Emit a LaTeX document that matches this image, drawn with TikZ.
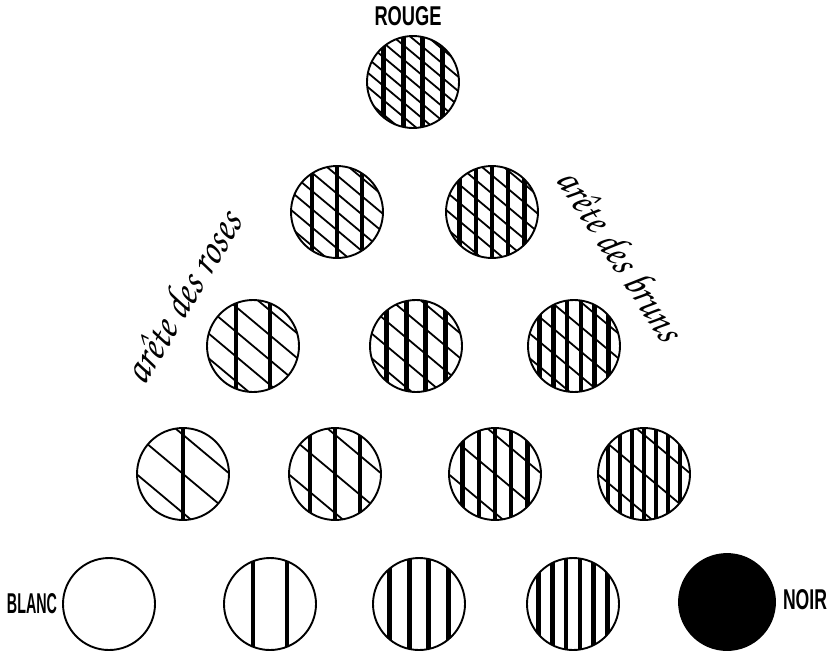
\documentclass[tikz,border=0pt]{standalone}
\usepackage[T1,TU]{fontenc}
\usepackage{fontspec}
\usepackage{graphicx}
\setsansfont{Liberation Sans}
\usetikzlibrary{calc}
\newcommand\chanc{\fontencoding{T1}\fontfamily{pzc}\fontseries{mb}\fontshape{it}\selectfont}
\begin{document}
\begin{tikzpicture}[x=1pt,y=-1pt,
  disc/.style={circle, draw, line width=1.9pt, minimum size=92pt, inner sep=0pt},
  diag/.style={line width=1.8pt},
  vbar/.style={line width=4.6pt},
  caps/.style={font=\sffamily\bfseries, inner sep=0pt},
  hand/.style={font=\chanc, inner sep=0pt}]
\useasboundingbox (0,0) rectangle (834,651);
\foreach \r/\k/\cx/\cy in {0/0/413/82, 1/0/337/212, 1/1/492/212,
  2/0/253/346, 2/1/416/346, 2/2/574/346,
  3/0/183/474, 3/1/335/474, 3/2/495/474, 3/3/644/474,
  4/0/109/604, 4/1/270/604, 4/2/419/604, 4/3/573/604}{
  \pgfmathtruncatemacro\rd{4-\r}
  \pgfmathtruncatemacro\nv{2*\k+4-\r}
  \begin{scope}
    \clip (\cx,\cy) circle[radius=46pt];
    \ifnum\rd>0
      \pgfmathsetmacro\sp{{30,19,14,11}[\rd-1]}
      \foreach \t in {-7,...,7}{
        \pgfmathsetmacro\px{\cx-0.643*\t*\sp-0.766*60}
        \pgfmathsetmacro\py{\cy+0.766*\t*\sp-0.643*60}
        \draw[diag] (\px,\py) -- ++(92,77);
      }
    \fi
    \ifnum\nv>0
      \pgfmathsetmacro\dd{92/(\nv+0.7)}
      \foreach \i in {1,...,\nv}{
        \pgfmathsetmacro\vx{\cx+(\i-(\nv+1)/2)*\dd}
        \draw[vbar] (\vx,\cy-50) -- (\vx,\cy+50);
      }
    \fi
  \end{scope}
  \node[disc] (c\r\k) at (\cx,\cy) {};
}
\node[disc, fill, minimum size=96pt] (c44) at (727,602) {};
\node[caps] (rouge) at (408,16) {\resizebox{67pt}{19pt}{ROUGE}};
\node[caps] (blanc) at (32,604) {\resizebox{50pt}{20pt}{BLANC}};
\node[caps] (noir) at (805,600) {\resizebox{44pt}{20pt}{NOIR}};
\node[hand, rotate=59] (roses) at (181,296) {\scalebox{1}[1.15]{\resizebox{192pt}{!}{ar\^ete des roses}}};
\node[hand, rotate=-57] (bruns) at (622,254) {\scalebox{1}[1.15]{\resizebox{196pt}{!}{ar\^ete des bruns}}};
\end{tikzpicture}
\end{document}
